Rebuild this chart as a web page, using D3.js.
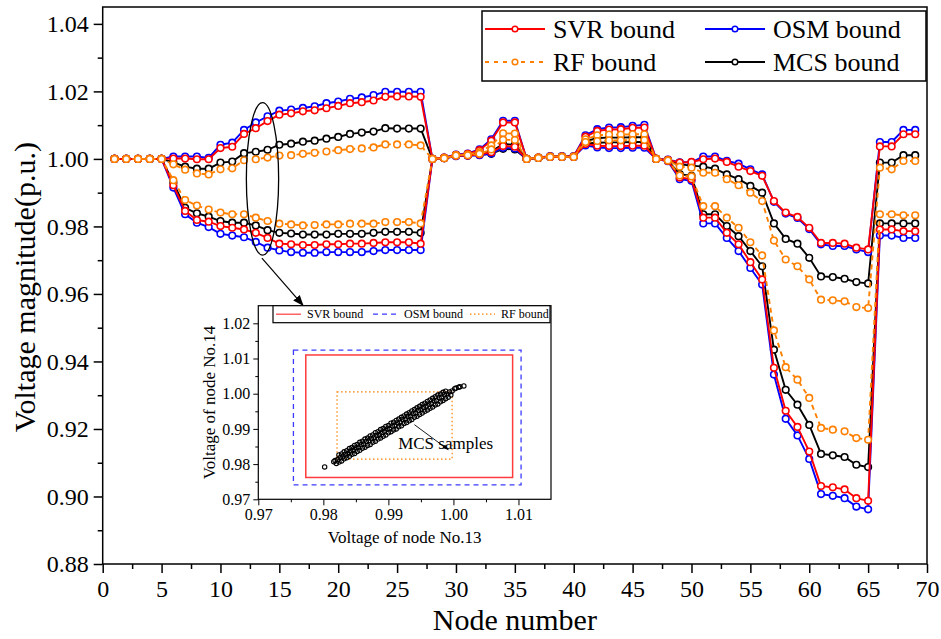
<!DOCTYPE html>
<html>
<head>
<meta charset="utf-8">
<script src="https://cdnjs.cloudflare.com/ajax/libs/d3/7.8.5/d3.min.js"></script>
<style>
body{margin:0;background:#fff;}
svg text{font-family:"Liberation Serif","Times New Roman","DejaVu Serif",serif;fill:#000;}
</style>
</head>
<body>
<div id="chart"></div>
<script>
// node numbers on the x axis
var nodes = d3.range(1, 70);

// voltage bounds, one value per node
var svrUpper = [1,1,1,1,1,1.0001,1.0001,0.9999,0.9999,1.0032,1.0036,1.0074,1.0091,1.0112,1.0131,1.0135,1.0141,1.0144,1.0150,1.0157,1.0165,1.0168,1.0173,1.0184,1.0185,1.0185,1.0184,
  1,1.0004,1.0012,1.0015,1.0026,1.0054,1.0108,1.0108,1,1.0004,1.0007,1.0007,1.0007,1.0066,1.0083,1.0087,1.0088,1.0092,1.0093,1,
  0.9997,0.9989,0.9991,0.9999,1.0001,0.9991,0.9977,0.9964,0.9950,0.9875,0.9841,0.9828,0.9796,0.9751,0.9751,0.9749,0.9737,0.9732,1.0037,1.0037,1.0073,1.0073];
var svrLower = [1,1,1,1,1,0.9922,0.9846,0.9819,0.9814,0.9801,0.9796,0.9791,0.9781,0.9766,0.9749,0.9747,0.9745,0.9745,0.9747,0.9747,0.9749,0.9749,0.9751,0.9753,0.9753,0.9753,0.9749,
  1,1.0002,1.0009,1.0010,1.0013,1.0020,1.0038,1.0036,1,1.0003,1.0006,1.0006,1.0006,1.0044,1.0039,1.0038,1.0038,1.0039,1.0039,1,
  0.9994,0.9945,0.9940,0.9826,0.9826,0.9781,0.9747,0.9694,0.9643,0.9381,0.9254,0.9206,0.9133,0.9031,0.9027,0.9021,0.8995,0.8987,0.9791,0.9791,0.9786,0.9786];
var osmUpper = [1,1,1,1,1,1.0007,1.0007,1.0007,1.0003,1.0042,1.0048,1.0086,1.0108,1.0126,1.0143,1.0146,1.0151,1.0156,1.0165,1.0170,1.0178,1.0182,1.0189,1.0199,1.0199,1.0199,1.0199,
  1,1.0004,1.0013,1.0016,1.0028,1.0058,1.0113,1.0113,1,1.0004,1.0008,1.0008,1.0008,1.0070,1.0088,1.0093,1.0094,1.0098,1.0101,1,
  0.9998,0.9990,0.9990,1.0007,1.0007,0.9994,0.9986,0.9969,0.9954,0.9873,0.9838,0.9825,0.9792,0.9747,0.9742,0.9742,0.9732,0.9724,1.0050,1.0050,1.0086,1.0086];
var osmLower = [1,1,1,1,1,0.9915,0.9836,0.9811,0.9798,0.9778,0.9773,0.9768,0.9754,0.9737,0.9729,0.9724,0.9722,0.9722,0.9724,0.9724,0.9724,0.9724,0.9727,0.9730,0.9730,0.9730,0.9730,
  1,1.0002,1.0008,1.0009,1.0011,1.0016,1.0033,1.0031,1,1.0003,1.0006,1.0006,1.0006,1.0040,1.0034,1.0032,1.0032,1.0033,1.0033,1,
  0.9993,0.9940,0.9935,0.9809,0.9809,0.9766,0.9727,0.9677,0.9628,0.9361,0.9230,0.9181,0.9111,0.9007,0.9002,0.8995,0.8970,0.8962,0.9773,0.9773,0.9766,0.9766];
var rfUpper = [1,1,1,1,1,0.9984,0.9968,0.9957,0.9954,0.9969,0.9972,0.9996,0.9999,1.0004,1.0010,1.0011,1.0015,1.0018,1.0022,1.0026,1.0029,1.0031,1.0034,1.0043,1.0043,1.0043,1.0040,
  1,1.0003,1.0011,1.0013,1.0020,1.0040,1.0076,1.0075,1,1.0004,1.0007,1.0007,1.0007,1.0058,1.0070,1.0072,1.0072,1.0073,1.0073,1,
  0.9996,0.9977,0.9974,0.9959,0.9959,0.9940,0.9922,0.9900,0.9875,0.9758,0.9702,0.9682,0.9643,0.9583,0.9581,0.9578,0.9561,0.9558,0.9974,0.9969,0.9994,0.9994];
var rfLower = [1,1,1,1,1,0.9937,0.9878,0.9862,0.9850,0.9841,0.9836,0.9836,0.9826,0.9816,0.9808,0.9806,0.9803,0.9804,0.9806,0.9806,0.9808,0.9808,0.9808,0.9813,0.9813,0.9813,0.9809,
  1,1.0002,1.0010,1.0011,1.0015,1.0028,1.0057,1.0056,1,1.0003,1.0006,1.0006,1.0006,1.0050,1.0053,1.0055,1.0055,1.0056,1.0056,1,
  0.9995,0.9951,0.9948,0.9860,0.9860,0.9826,0.9796,0.9753,0.9714,0.9492,0.9383,0.9346,0.9292,0.9203,0.9198,0.9193,0.9173,0.9168,0.9836,0.9836,0.9833,0.9833];
var mcsUpper = [1,1,1,1,1,0.9990,0.9977,0.9971,0.9971,0.9989,0.9992,1.0017,1.0021,1.0027,1.0042,1.0045,1.0051,1.0054,1.0060,1.0065,1.0074,1.0078,1.0081,1.0091,1.0090,1.0090,1.0090,
  1,1.0003,1.0010,1.0012,1.0016,1.0022,1.0044,1.0042,1,1.0003,1.0007,1.0007,1.0007,1.0052,1.0062,1.0063,1.0063,1.0064,1.0064,1,
  0.9996,0.9984,0.9980,0.9977,0.9971,0.9954,0.9940,0.9920,0.9900,0.9809,0.9763,0.9749,0.9707,0.9652,0.9650,0.9645,0.9635,0.9631,0.9989,0.9989,1.0011,1.0011];
var mcsLower = [1,1,1,1,1,0.9930,0.9855,0.9839,0.9829,0.9816,0.9811,0.9811,0.9803,0.9789,0.9781,0.9779,0.9776,0.9776,0.9776,0.9778,0.9778,0.9778,0.9781,0.9784,0.9784,0.9784,0.9781,
  1,1.0002,1.0009,1.0010,1.0012,1.0015,1.0030,1.0028,1,1.0003,1.0006,1.0006,1.0006,1.0046,1.0048,1.0049,1.0049,1.0050,1.0050,1,
  0.9995,0.9955,0.9950,0.9836,0.9836,0.9801,0.9771,0.9727,0.9682,0.9435,0.9316,0.9272,0.9212,0.9126,0.9122,0.9117,0.9094,0.9087,0.9809,0.9809,0.9809,0.9809];

var yTicks = [0.88,0.90,0.92,0.94,0.96,0.98,1.00,1.02,1.04];
var xTicks = [0,5,10,15,20,25,30,35,40,45,50,55,60,65,70];

// inset: bounds of node 13 / node 14 voltages
var boxNames = ["OSM bound","SVR bound","RF bound"];
var node13Lo = [0.9754,0.9773,0.9821];
var node13Hi = [1.0104,1.0091,0.9998];
var node14Lo = [0.9741,0.9762,0.9814];
var node14Hi = [1.0124,1.0110,1.0005];
var insetTicks = [0.97,0.98,0.99,1.00,1.01,1.02];

// MCS samples (node 13, node 14)
var mcsSamples = [
 [0.9802,0.9792],[1.0008,1.0018],[1.0010,1.0020],[1.0016,1.0022],[1.0004,1.0016],
 [0.9820,0.9802],[0.9824,0.9806],[0.9828,0.9809],[0.9832,0.9815],[0.9836,0.9818],[0.9840,0.9822],[0.9844,0.9828],[0.9848,0.9830],[0.9852,0.9836],[0.9856,0.9839],[0.9860,0.9845],[0.9864,0.9848],[0.9868,0.9853],[0.9872,0.9856],[0.9876,0.9862],[0.9880,0.9865],[0.9884,0.9871],[0.9888,0.9874],[0.9892,0.9879],[0.9896,0.9883],[0.9900,0.9889],[0.9904,0.9892],[0.9908,0.9897],[0.9912,0.9900],[0.9916,0.9906],[0.9920,0.9909],[0.9924,0.9915],[0.9928,0.9918],[0.9932,0.9923],[0.9936,0.9927],[0.9940,0.9933],[0.9944,0.9936],[0.9948,0.9941],[0.9952,0.9945],[0.9956,0.9950],[0.9960,0.9954],[0.9964,0.9959],[0.9968,0.9962],[0.9972,0.9968],[0.9976,0.9971],[0.9980,0.9977],[0.9984,0.9981],[0.9988,0.9986],[0.9992,0.9990],[0.9996,0.9996],
 [0.9816,0.9807],[0.9818,0.9810],[0.9822,0.9813],[0.9826,0.9819],[0.9830,0.9822],[0.9834,0.9828],[0.9838,0.9830],[0.9842,0.9837],[0.9846,0.9839],[0.9850,0.9846],[0.9854,0.9848],[0.9858,0.9855],[0.9862,0.9857],[0.9866,0.9864],[0.9870,0.9866],[0.9874,0.9872],[0.9878,0.9875],[0.9882,0.9881],[0.9886,0.9884],[0.9890,0.9890],[0.9894,0.9893],[0.9898,0.9899],[0.9902,0.9901],[0.9906,0.9908],[0.9910,0.9910],[0.9914,0.9917],[0.9918,0.9919],[0.9922,0.9926],[0.9926,0.9928],[0.9930,0.9935],[0.9934,0.9937],[0.9938,0.9943],[0.9942,0.9946],[0.9946,0.9952],[0.9950,0.9955],[0.9954,0.9961],[0.9958,0.9964],[0.9962,0.9970],[0.9966,0.9972],[0.9970,0.9979],[0.9974,0.9981],[0.9978,0.9988],[0.9982,0.9990],[0.9986,0.9997],[0.9990,0.9999],[0.9994,1.0005],[0.9998,1.0008],[1.0002,1.0014],
 [0.9824,0.9826],[0.9828,0.9829],[0.9832,0.9835],[0.9836,0.9838],[0.9840,0.9844],[0.9844,0.9847],[0.9848,0.9853],[0.9852,0.9856],[0.9856,0.9862],[0.9860,0.9865],[0.9864,0.9871],[0.9868,0.9874],[0.9872,0.9880],[0.9876,0.9883],[0.9880,0.9889],[0.9884,0.9892],[0.9888,0.9898],[0.9892,0.9901],[0.9896,0.9907],[0.9900,0.9910],[0.9904,0.9916],[0.9908,0.9919],[0.9912,0.9924],[0.9916,0.9928],[0.9920,0.9933],[0.9924,0.9937],[0.9928,0.9942],[0.9932,0.9946],[0.9936,0.9951],[0.9940,0.9955],[0.9944,0.9960],[0.9948,0.9964],[0.9952,0.9969],[0.9956,0.9973],[0.9960,0.9978],[0.9964,0.9982],[0.9968,0.9987],[0.9972,0.9991],[0.9976,0.9996],[0.9980,0.9999],[0.9984,1.0004],[0.9988,1.0007]
];

var W = 941, H = 639;
var m = {left:102.7, right:14, top:7, bottom:75};
var serif = '"Liberation Serif","Times New Roman","DejaVu Serif",serif';

var svg = d3.select("#chart").append("svg")
            .attr("width", W)
            .attr("height", H);
svg.append("rect").attr("width",W).attr("height",H).attr("fill","#fff");

var x = d3.scaleLinear().domain([0,70]).range([m.left, W-m.right]);
var y = d3.scaleLinear().domain([0.88,1.045]).range([H-m.bottom, m.top]);

// axes
var styleAxis = function(g, size, sw){
  g.select(".domain").remove();
  g.attr("font-family",null).attr("font-size",null);
  g.selectAll("text").style("font-family",serif).style("font-size",size+"px").style("fill","#000");
  g.selectAll("line").attr("stroke","#000").attr("stroke-width",sw || 1.5);
};
svg.append("g").attr("transform","translate(0,"+y(0.88)+")")
   .call(d3.axisBottom(x).tickValues(d3.range(2.5,70,5)).tickSize(5).tickFormat(""))
   .call(styleAxis, 24);
svg.append("g").attr("transform","translate(0,"+y(0.88)+")")
   .call(d3.axisBottom(x).tickValues(xTicks).tickSize(9).tickPadding(7).tickFormat(d3.format("d")))
   .call(styleAxis, 24);
svg.append("g").attr("transform","translate("+x(0)+",0)")
   .call(d3.axisLeft(y).tickValues(d3.range(0.89,1.045,0.02)).tickSize(5).tickFormat(""))
   .call(styleAxis, 24);
svg.append("g").attr("transform","translate("+x(0)+",0)")
   .call(d3.axisLeft(y).tickValues(yTicks).tickSize(9).tickPadding(5).tickFormat(d3.format(".2f")))
   .call(styleAxis, 24);

svg.append("rect")
   .attr("x",x(0)).attr("y",y(1.045))
   .attr("width",x(70)-x(0)).attr("height",y(0.88)-y(1.045))
   .style("fill","none").style("stroke","#000").style("stroke-width",1.5);

svg.append("text").attr("x",(x(0)+x(70))/2).attr("y",630)
   .attr("text-anchor","middle").style("font-family",serif).style("font-size","30px").text("Node number");
svg.append("text").attr("transform","translate(35,"+y(0.962)+") rotate(-90)")
   .attr("text-anchor","middle").style("font-family",serif).style("font-size","30px").text("Voltage magnitude(p.u.)");

// bound series, drawn bottom to top
var series = [
  {name:"MCS bound", up:mcsUpper, lo:mcsLower, color:"#000000", dash:null},
  {name:"OSM bound", up:osmUpper, lo:osmLower, color:"#0000ff", dash:null},
  {name:"SVR bound", up:svrUpper, lo:svrLower, color:"#ff0000", dash:null},
  {name:"RF bound",  up:rfUpper,  lo:rfLower,  color:"#ff8000", dash:"5,4"}
];
var line = d3.line().x(function(d,i){ return x(nodes[i]); }).y(function(d){ return y(d); });

series.forEach(function(s){
  var g = svg.append("g");
  [s.up, s.lo].forEach(function(vals){
    g.append("path").datum(vals)
     .attr("d", line)
     .style("fill","none").style("stroke",s.color).style("stroke-width",1.9)
     .style("stroke-dasharray", s.dash);
    g.selectAll(null).data(vals).enter().append("circle")
     .attr("cx",function(d,i){ return x(nodes[i]); })
     .attr("cy",function(d){ return y(d); })
     .attr("r",3.3)
     .style("fill","#fff").style("stroke",s.color).style("stroke-width",1.6);
  });
});

// legend
var legendOrder = [["SVR bound","#ff0000",null],["OSM bound","#0000ff",null],["RF bound","#ff8000","4,5"],["MCS bound","#000000",null]];
var lg = svg.append("g");
lg.append("rect").attr("x",482).attr("y",11).attr("width",444).attr("height",70)
  .style("fill","#fff").style("stroke","#000").style("stroke-width",1.5);
legendOrder.forEach(function(l,i){
  var lx = 485 + (i%2)*220, ly = 29 + Math.floor(i/2)*33;
  lg.append("line").attr("x1",lx).attr("x2",lx+60).attr("y1",ly).attr("y2",ly)
    .style("stroke",l[1]).style("stroke-width",1.8).style("stroke-dasharray",l[2]);
  lg.append("circle").attr("cx",lx+30).attr("cy",ly).attr("r",2.8)
    .style("fill","#fff").style("stroke",l[1]).style("stroke-width",1.5);
  lg.append("text").attr("x",lx+68).attr("y",ly+9)
    .style("font-family",serif).style("font-size","26px").text(l[0]);
});

// ellipse around node 13/14 and pointer to inset
svg.append("ellipse")
   .attr("cx",x(13.57)).attr("cy",y(0.9941))
   .attr("rx",x(13.57)-x(12.2)).attr("ry",y(0.9715)-y(0.9941))
   .style("fill","none").style("stroke","#000").style("stroke-width",1.3);

var defs = svg.append("defs");
defs.append("marker").attr("id","ah").attr("viewBox","0 0 10 10")
    .attr("refX",9).attr("refY",5).attr("markerWidth",9).attr("markerHeight",9)
    .attr("orient","auto")
    .append("path").attr("d","M0,1L10,5L0,9z").attr("fill","#000");
defs.append("marker").attr("id","ah2").attr("viewBox","0 0 10 10")
    .attr("refX",9).attr("refY",5).attr("markerWidth",7).attr("markerHeight",7)
    .attr("orient","auto")
    .append("path").attr("d","M0,1.5L10,5L0,8.5z").attr("fill","#000");

svg.append("line")
   .attr("x1",x(13.52)).attr("y1",y(0.9706)).attr("x2",x(17.0)).attr("y2",y(0.9567))
   .style("stroke","#000").style("stroke-width",1.2).attr("marker-end","url(#ah)");

// inset
var xi = d3.scaleLinear().domain([0.97,1.015]).range([258.3,551]);
var yi = d3.scaleLinear().domain([0.97,1.025]).range([499.3,305.7]);
var inset = svg.append("g");
inset.append("rect").attr("x",xi(0.97)).attr("y",yi(1.025))
     .attr("width",xi(1.015)-xi(0.97)).attr("height",yi(0.97)-yi(1.025))
     .style("fill","#fff");

inset.append("g").attr("transform","translate(0,"+yi(0.97)+")")
     .call(d3.axisBottom(xi).tickValues([0.975,0.985,0.995,1.005]).tickSize(3).tickFormat(""))
     .call(styleAxis,16,1);
inset.append("g").attr("transform","translate(0,"+yi(0.97)+")")
     .call(d3.axisBottom(xi).tickValues(insetTicks.slice(0,5)).tickSize(6).tickPadding(3).tickFormat(d3.format(".2f")))
     .call(styleAxis,16,1);
inset.append("g").attr("transform","translate("+xi(0.97)+",0)")
     .call(d3.axisLeft(yi).tickValues([0.975,0.985,0.995,1.005,1.015]).tickSize(3).tickFormat(""))
     .call(styleAxis,16,1);
inset.append("g").attr("transform","translate("+xi(0.97)+",0)")
     .call(d3.axisLeft(yi).tickValues(insetTicks).tickSize(5).tickPadding(3).tickFormat(d3.format(".2f")))
     .call(styleAxis,16,1);

inset.append("rect").attr("x",xi(0.97)).attr("y",yi(1.025))
     .attr("width",xi(1.015)-xi(0.97)).attr("height",yi(0.97)-yi(1.025))
     .style("fill","none").style("stroke","#000").style("stroke-width",1.2);

var boxStyle = {"OSM bound":["#3b3bff","5,4",1.3],"SVR bound":["#ff3b3b",null,1.5],"RF bound":["#ff8000","1.5,2.5",1.2]};
boxNames.forEach(function(b,i){
  inset.append("rect")
       .attr("x",xi(node13Lo[i])).attr("y",yi(node14Hi[i]))
       .attr("width",xi(node13Hi[i])-xi(node13Lo[i]))
       .attr("height",yi(node14Lo[i])-yi(node14Hi[i]))
       .style("fill","none").style("stroke",boxStyle[b][0])
       .style("stroke-dasharray",boxStyle[b][1]).style("stroke-width",boxStyle[b][2]);
});

inset.selectAll(null).data(mcsSamples).enter().append("circle")
     .attr("cx",function(d){ return xi(d[0]); })
     .attr("cy",function(d){ return yi(d[1]); })
     .attr("r",2.2)
     .style("fill","none").style("stroke","#000").style("stroke-width",1.1);

inset.append("line")
     .attr("x1",xi(0.9940)).attr("y1",yi(0.9912)).attr("x2",xi(0.9992)).attr("y2",yi(0.9841))
     .style("stroke","#000").style("stroke-width",0.9).attr("marker-end","url(#ah2)");
inset.append("text").attr("x",xi(0.9915)).attr("y",yi(0.9844))
     .style("font-family",serif).style("font-size","17px").text("MCS samples");

// inset legend
var ilg = inset.append("g");
ilg.append("rect").attr("x",273).attr("y",yi(1.025)).attr("width",277).attr("height",17)
   .style("fill","#fff").style("stroke","#000").style("stroke-width",1.2);
[["SVR bound","#ff3b3b",null],["OSM bound","#3b3bff","5,4"],["RF bound","#ff8000","1.5,2.5"]].forEach(function(l,i){
  var lx = 276 + i*97, ly = yi(1.025) + 8.5;
  ilg.append("line").attr("x1",lx).attr("x2",lx+25).attr("y1",ly).attr("y2",ly)
     .style("stroke",l[1]).style("stroke-width",1.2).style("stroke-dasharray",l[2]);
  ilg.append("text").attr("x",lx+31).attr("y",ly+4)
     .style("font-family",serif).style("font-size","12px").text(l[0]);
});

inset.append("text").attr("x",(xi(0.97)+xi(1.015))/2).attr("y",543)
     .attr("text-anchor","middle").style("font-family",serif).style("font-size","17px").text("Voltage of node No.13");
inset.append("text").attr("transform","translate(215,"+((yi(0.97)+yi(1.025))/2)+") rotate(-90)")
     .attr("text-anchor","middle").style("font-family",serif).style("font-size","17px").text("Voltage of node No.14");
</script>
</body>
</html>
